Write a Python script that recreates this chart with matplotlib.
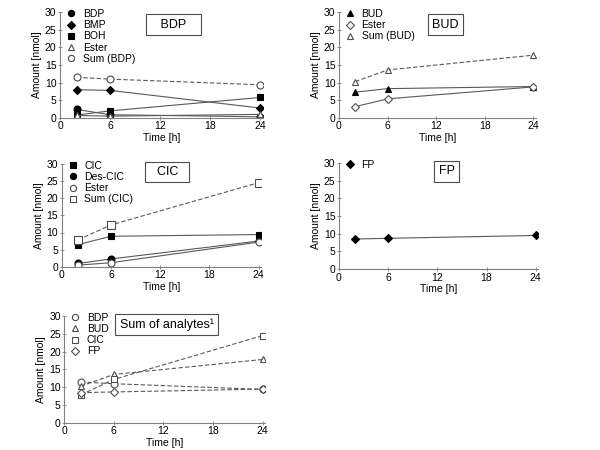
import matplotlib
matplotlib.use('Agg')
import matplotlib.pyplot as plt

plt.rcParams['font.family'] = ['Liberation Sans', 'DejaVu Sans']

time_h = [2, 6, 24]

# BDP panel
bdp_bdp = [2.4, 0.9, 0.3]
bdp_bmp = [8.0, 7.8, 2.8]
bdp_boh = [0.8, 2.0, 5.8]
bdp_ester = [0.7, 0.5, 1.0]
bdp_sum = [11.5, 11.0, 9.4]

# BUD panel
bud_bud = [7.3, 8.3, 8.9]
bud_ester = [3.2, 5.4, 8.8]
bud_sum = [10.3, 13.6, 17.8]

# CIC panel
cic_cic = [6.5, 8.9, 9.4]
cic_des = [1.0, 2.3, 7.5]
cic_ester = [0.5, 1.2, 7.2]
cic_sum = [7.9, 12.2, 24.5]

# FP panel
fp_fp = [8.5, 8.7, 9.5]

x_ticks = [0, 6, 12, 18, 24]
y_ticks = [0, 5, 10, 15, 20, 25, 30]

LINE_C = '0.35'


def series(ax, y, marker, label, filled=True, dashed=False, ms=5):
    ax.plot(time_h, y, color=LINE_C, lw=0.8,
            linestyle=(0, (4, 2)) if dashed else '-',
            marker=marker, ms=ms, mew=0.8,
            mfc='black' if filled else 'white',
            mec='black' if filled else '0.3',
            label=label)


def style(ax, title, tx, ty):
    ax.set_xlim(0, 24.3)
    ax.set_ylim(0, 30)
    ax.set_xticks(x_ticks)
    ax.set_yticks(y_ticks)
    for s in ['top', 'right']:
        ax.spines[s].set_visible(False)
    for s in ['left', 'bottom']:
        ax.spines[s].set_color('0.5')
        ax.spines[s].set_linewidth(0.8)
    ax.tick_params(labelsize=7.5, length=3, width=0.6, color='0.5',
                   direction='inout', pad=1)
    ax.set_xlabel('Time [h]', fontsize=7.5, labelpad=1)
    ax.set_ylabel('Amount [nmol]', fontsize=7.5, labelpad=2)
    ax.text(tx, ty, title, transform=ax.transAxes, fontsize=9,
            ha='center', va='center',
            bbox=dict(boxstyle='square,pad=0.35', fc='white', ec='0.3', lw=0.8))
    leg = ax.legend(loc='upper left', frameon=False, fontsize=7.5,
                    handlelength=0.8, handletextpad=0.7, labelspacing=0.12,
                    borderaxespad=0.0, borderpad=0.0,
                    bbox_to_anchor=(0.035, 1.03))
    for h in leg.get_lines():
        h.set_linestyle('None')
        h.set_markersize(4.5)


fig = plt.figure(figsize=(6, 4.5), dpi=100)

ax1 = fig.add_axes([0.100, 0.738, 0.338, 0.235])
series(ax1, bdp_bdp, 'o', 'BDP')
series(ax1, bdp_bmp, 'D', 'BMP', ms=4.5)
series(ax1, bdp_boh, 's', 'BOH', ms=4.5)
series(ax1, bdp_ester, '^', 'Ester', filled=False)
series(ax1, bdp_sum, 'o', 'Sum (BDP)', filled=False, dashed=True)
style(ax1, '   BDP   ', 0.56, 0.88)

ax2 = fig.add_axes([0.565, 0.738, 0.328, 0.235])
series(ax2, bud_bud, '^', 'BUD')
series(ax2, bud_ester, 'D', 'Ester', filled=False, ms=4)
series(ax2, bud_sum, '^', 'Sum (BUD)', filled=False, dashed=True)
style(ax2, 'BUD', 0.54, 0.88)

ax3 = fig.add_axes([0.103, 0.407, 0.332, 0.229])
series(ax3, cic_cic, 's', 'CIC', ms=4.5)
series(ax3, cic_des, 'o', 'Des-CIC')
series(ax3, cic_ester, 'o', 'Ester', filled=False)
series(ax3, cic_sum, 's', 'Sum (CIC)', filled=False, dashed=True, ms=5.5)
style(ax3, '  CIC  ', 0.53, 0.92)

ax4 = fig.add_axes([0.565, 0.402, 0.332, 0.236])
series(ax4, fp_fp, 'D', 'FP', ms=4.5)
style(ax4, 'FP', 0.54, 0.92)

ax5 = fig.add_axes([0.107, 0.060, 0.335, 0.238])
series(ax5, bdp_sum, 'o', 'BDP', filled=False, dashed=True)
series(ax5, bud_sum, '^', 'BUD', filled=False, dashed=True)
series(ax5, cic_sum, 's', 'CIC', filled=False, dashed=True)
series(ax5, fp_fp, 'D', 'FP', filled=False, dashed=True, ms=4)
style(ax5, 'Sum of analytes\u00b9', 0.51, 0.92)

fig.savefig('out.png', dpi=100)
